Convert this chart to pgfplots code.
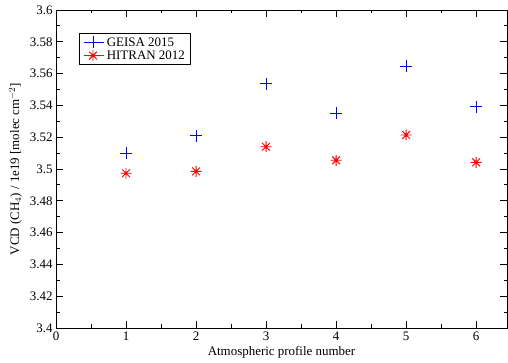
\documentclass[border=0pt]{standalone}
\usepackage{pgfplots}
\pgfplotsset{compat=1.18}
\usepackage{fontspec}
\setmainfont{Liberation Serif}
\pgfdeclareplotmark{star8}{%
  \pgfpathmoveto{\pgfqpoint{-\pgfplotmarksize}{0pt}}\pgfpathlineto{\pgfqpoint{\pgfplotmarksize}{0pt}}%
  \pgfpathmoveto{\pgfqpoint{0pt}{-\pgfplotmarksize}}\pgfpathlineto{\pgfqpoint{0pt}{\pgfplotmarksize}}%
  \pgfpathmoveto{\pgfqpoint{-0.707\pgfplotmarksize}{-0.707\pgfplotmarksize}}\pgfpathlineto{\pgfqpoint{0.707\pgfplotmarksize}{0.707\pgfplotmarksize}}%
  \pgfpathmoveto{\pgfqpoint{-0.707\pgfplotmarksize}{0.707\pgfplotmarksize}}\pgfpathlineto{\pgfqpoint{0.707\pgfplotmarksize}{-0.707\pgfplotmarksize}}%
  \pgfusepathqstroke}
\begin{document}
\begin{tikzpicture}
\begin{axis}[
  scale only axis,
  width=451bp, height=318bp,
  xmin=0, xmax=6.44, ymin=3.4, ymax=3.6,
  xtick={0,1,2,3,4,5,6},
  ytick={3.4,3.42,3.44,3.46,3.48,3.5,3.52,3.54,3.56,3.58,3.6},
  minor x tick num=1, minor y tick num=1,
  tick align=inside,
  major tick length=7bp, minor tick length=3.5bp,
  every tick/.style={black, line width=0.8pt},
  axis line style={line width=0.9pt},
  /pgf/number format/assume math mode=true,
  yticklabel style={/pgf/number format/fixed, /pgf/number format/precision=2},
  tick label style={font=\fontsize{13}{14}\selectfont},
  label style={font=\fontsize{13}{14}\selectfont},
  xlabel={Atmospheric profile number},
  ylabel={VCD (CH$_4$) / 1e19 [molec cm$^{-2}$]},
  xlabel style={yshift=1bp},
  ylabel style={yshift=1bp},
  legend style={at={(axis cs:0.33,3.5855)}, anchor=north west, draw=black, line width=0.8pt,
    font=\fontsize{13}{14}\selectfont, inner xsep=4bp, inner ysep=2bp, row sep=-1bp},
  legend image code/.code={\path (0cm,0cm) -- (0.72cm,0cm); \draw[#1] plot coordinates {(0.32cm,0cm)};},
  legend cell align=left,
]
\addplot[only marks, blue, mark=+, mark size=6bp, line width=0.7pt] coordinates {
 (1,3.5100) (2,3.5210) (3,3.5537) (4,3.5350) (5,3.5647) (6,3.5393)};
\addlegendentry{GEISA 2015}
\addplot[only marks, red, mark=star8, mark size=5.5bp, line width=0.9pt] coordinates {
 (1,3.4973) (2,3.4985) (3,3.5140) (4,3.5055) (5,3.5214) (6,3.5042)};
\addlegendentry{HITRAN 2012}
\end{axis}
\path ([shift={(-56bp,-35bp)}]current axis.south west) rectangle ([shift={(1bp,10bp)}]current axis.north east);
\end{tikzpicture}
\end{document}
